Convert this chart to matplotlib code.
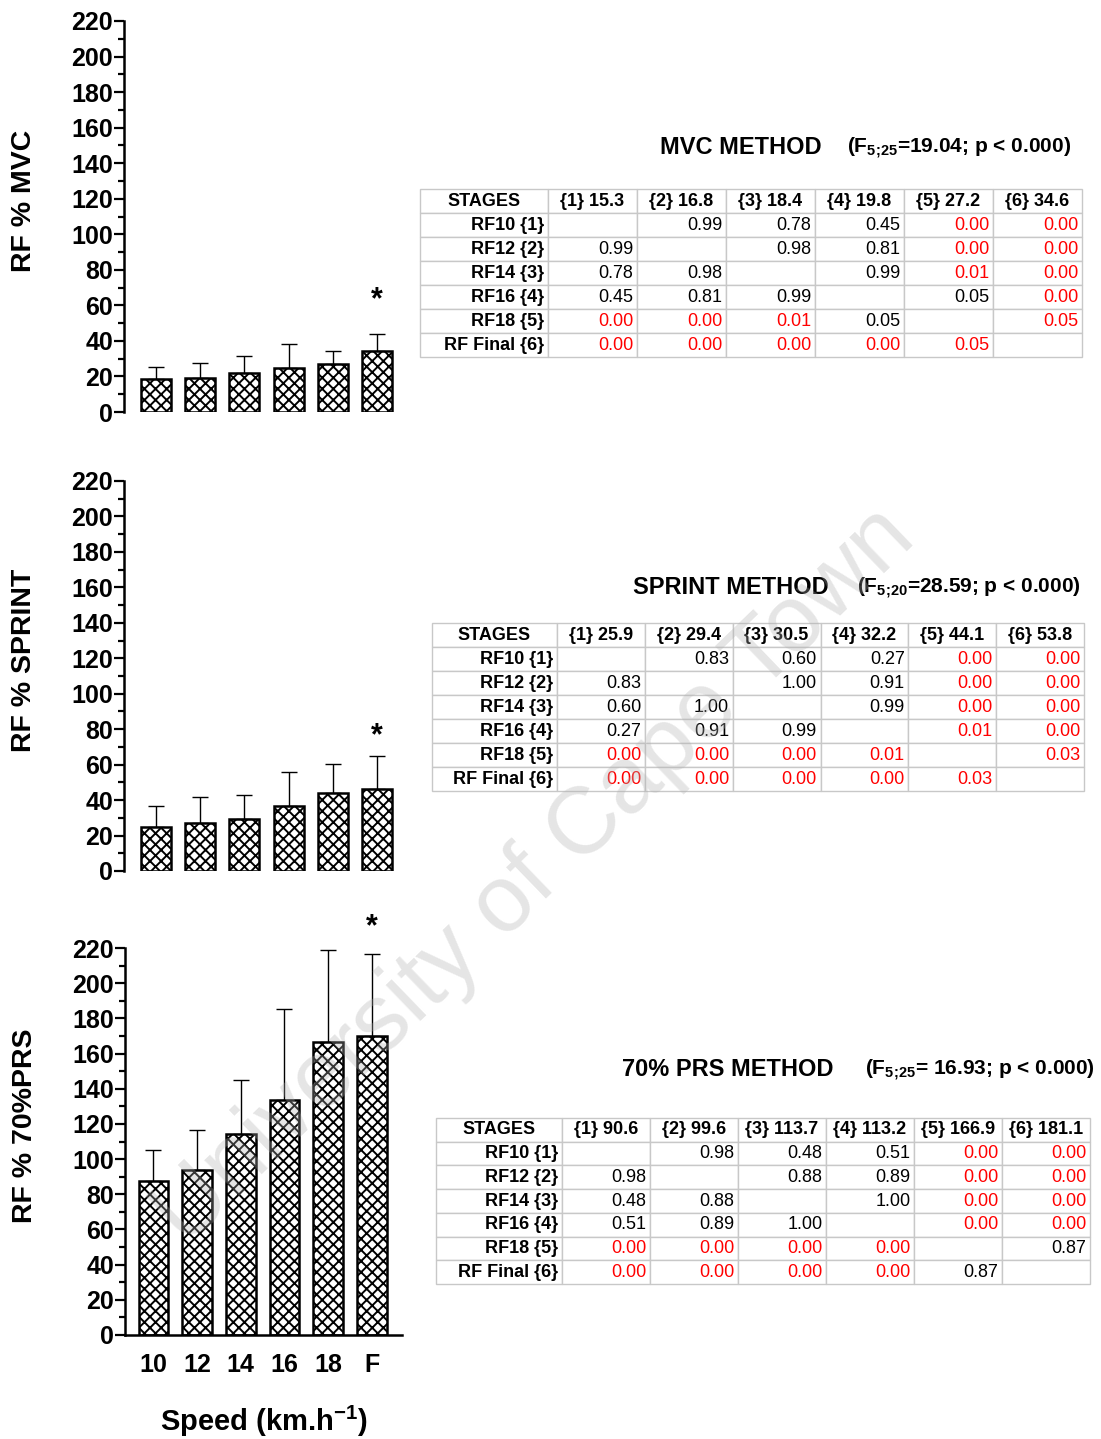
import matplotlib
matplotlib.use("Agg")
import matplotlib.pyplot as plt
from matplotlib import font_manager as fm
import numpy as np

# ---------------- data ----------------
speeds = ["10", "12", "14", "16", "18", "F"]

mvc_mean = [18.6, 19.3, 22.1, 24.9, 27.2, 34.1]
mvc_sd = [6.9, 8.3, 9.6, 13.4, 7.3, 9.6]
sprint_mean = [25.0, 27.0, 29.3, 36.7, 44.0, 46.3]
sprint_sd = [11.7, 14.7, 13.6, 19.1, 16.4, 18.6]
prs_mean = [87.7, 93.6, 114.1, 133.4, 166.8, 169.8]
prs_sd = [17.7, 22.7, 30.9, 51.9, 52.1, 46.8]

star_levels = [63, 76, 232]  # y value of the significance asterisk over "F"

row_labels = ["RF10 {1}", "RF12 {2}", "RF14 {3}", "RF16 {4}", "RF18 {5}", "RF Final {6}"]

mvc_cols = ["{1} 15.3", "{2} 16.8", "{3} 18.4", "{4} 19.8", "{5} 27.2", "{6} 34.6"]
mvc_p = [["", "0.99", "0.78", "0.45", "0.00", "0.00"],
         ["0.99", "", "0.98", "0.81", "0.00", "0.00"],
         ["0.78", "0.98", "", "0.99", "0.01", "0.00"],
         ["0.45", "0.81", "0.99", "", "0.05", "0.00"],
         ["0.00", "0.00", "0.01", "0.05", "", "0.05"],
         ["0.00", "0.00", "0.00", "0.00", "0.05", ""]]
mvc_sig = [[0, 0, 0, 0, 1, 1],
           [0, 0, 0, 0, 1, 1],
           [0, 0, 0, 0, 1, 1],
           [0, 0, 0, 0, 0, 1],
           [1, 1, 1, 0, 0, 1],
           [1, 1, 1, 1, 1, 0]]

sprint_cols = ["{1} 25.9", "{2} 29.4", "{3} 30.5", "{4} 32.2", "{5} 44.1", "{6} 53.8"]
sprint_p = [["", "0.83", "0.60", "0.27", "0.00", "0.00"],
            ["0.83", "", "1.00", "0.91", "0.00", "0.00"],
            ["0.60", "1.00", "", "0.99", "0.00", "0.00"],
            ["0.27", "0.91", "0.99", "", "0.01", "0.00"],
            ["0.00", "0.00", "0.00", "0.01", "", "0.03"],
            ["0.00", "0.00", "0.00", "0.00", "0.03", ""]]
sprint_sig = [[0, 0, 0, 0, 1, 1],
              [0, 0, 0, 0, 1, 1],
              [0, 0, 0, 0, 1, 1],
              [0, 0, 0, 0, 1, 1],
              [1, 1, 1, 1, 0, 1],
              [1, 1, 1, 1, 1, 0]]

prs_cols = ["{1} 90.6", "{2} 99.6", "{3} 113.7", "{4} 113.2", "{5} 166.9", "{6} 181.1"]
prs_p = [["", "0.98", "0.48", "0.51", "0.00", "0.00"],
         ["0.98", "", "0.88", "0.89", "0.00", "0.00"],
         ["0.48", "0.88", "", "1.00", "0.00", "0.00"],
         ["0.51", "0.89", "1.00", "", "0.00", "0.00"],
         ["0.00", "0.00", "0.00", "0.00", "", "0.87"],
         ["0.00", "0.00", "0.00", "0.00", "0.87", ""]]
prs_sig = [[0, 0, 0, 0, 1, 1],
           [0, 0, 0, 0, 1, 1],
           [0, 0, 0, 0, 1, 1],
           [0, 0, 0, 0, 1, 1],
           [1, 1, 1, 1, 0, 0],
           [1, 1, 1, 1, 0, 0]]

ylabels = ["RF % MVC", "RF % SPRINT", "RF % 70%PRS"]
titles = ["MVC METHOD", "SPRINT METHOD", "70% PRS METHOD"]
stats = [r"(F$_{5;\!25}$=19.04; p < 0.000)",
         r"(F$_{5;\!20}$=28.59; p < 0.000)",
         r"(F$_{5;\!25}$= 16.93; p < 0.000)"]

# ---------------- style ----------------
names = {f.name for f in fm.fontManager.ttflist}
narrow = "Liberation Sans Narrow" if "Liberation Sans Narrow" in names else "Liberation Sans"
plt.rcParams["font.family"] = ["Liberation Sans", "DejaVu Sans"]
plt.rcParams["mathtext.fontset"] = "custom"
plt.rcParams["mathtext.rm"] = "Liberation Sans:bold"
plt.rcParams["mathtext.bf"] = "Liberation Sans:bold"
plt.rcParams["mathtext.it"] = "Liberation Sans:bold"
plt.rcParams["mathtext.default"] = "bf"
plt.rcParams["hatch.linewidth"] = 1.4

W, H = 1101, 1439
fig = plt.figure(figsize=(W / 100, H / 100), dpi=100)


def ax_px(l, t, r, b):
    return fig.add_axes([l / W, 1 - b / H, (r - l) / W, (b - t) / H])


panels = [
    (ax_px(124, 21, 402, 412), mvc_mean, mvc_sd, (-0.716, 5.56), False),
    (ax_px(124, 481, 402, 871), sprint_mean, sprint_sd, (-0.716, 5.56), False),
    (ax_px(125, 948, 402, 1335), prs_mean, prs_sd, (-0.65, 5.69), True),
]

x = np.arange(len(speeds))
for i, (ax, mean, sd, xl, bottom) in enumerate(panels):
    ax.bar(x, mean, width=0.68, color="white", edgecolor="black",
           linewidth=1.8, hatch="xxx", zorder=2)
    ax.errorbar(x, mean, yerr=[np.zeros(len(sd)), sd], fmt="none",
                ecolor="black", elinewidth=1.0, capsize=6, capthick=1.0, zorder=1)
    ax.text(x[-1], star_levels[i], "*", ha="center", va="center",
            fontsize=22, fontweight="bold", clip_on=False)
    ax.set_xlim(*xl)
    ax.set_ylim(0, 220)
    ax.set_yticks(np.arange(0, 221, 20))
    ax.set_yticks(np.arange(10, 220, 20), minor=True)
    ax.tick_params(axis="y", which="major", length=7, width=1.6, pad=1,
                   labelsize=18)
    ax.tick_params(axis="y", which="minor", length=4, width=1.6)
    for lab in ax.get_yticklabels():
        lab.set_fontweight("bold")
    for s in ["top", "right"]:
        ax.spines[s].set_visible(False)
    ax.spines["left"].set_linewidth(1.8)
    ax.set_ylabel(ylabels[i], fontsize=20.5, fontweight="bold")
    ax.yaxis.set_label_coords(-0.313, 0.54)
    if bottom:
        ax.spines["bottom"].set_linewidth(1.8)
        ax.set_xticks(x)
        ax.set_xticklabels(speeds, fontsize=18, fontweight="bold")
        ax.tick_params(axis="x", length=0, pad=13)
        ax.set_xlabel(r"Speed (km.h$^{-1}$)", fontsize=21, fontweight="bold",
                      labelpad=19)
    else:
        ax.spines["bottom"].set_visible(False)
        ax.set_xticks([])

# ---------------- tables ----------------
tables = [
    ((420, 189, 1082, 357), 128, mvc_cols, mvc_p, mvc_sig, (660, 148), (847, 148)),
    ((432, 623, 1084, 791), 125, sprint_cols, sprint_p, sprint_sig, (633, 588), (857, 588)),
    ((436, 1118, 1090, 1284), 126, prs_cols, prs_p, prs_sig, (622, 1070), (865, 1070)),
]

for k, (box, firstw, cols, pvals, sig, tpos, spos) in enumerate(tables):
    l, t, r, b = box
    tw = r - l
    ax = ax_px(l, t, r, b)
    ax.axis("off")
    cell_text = [["STAGES"] + cols] + [[row_labels[j]] + pvals[j] for j in range(6)]
    ncol = len(cols)
    widths = [firstw / tw] + [(tw - firstw) / ncol / tw] * ncol
    tbl = ax.table(cellText=cell_text, colWidths=widths, bbox=[0, 0, 1, 1],
                   cellLoc="right")
    tbl.auto_set_font_size(False)
    tbl.set_fontsize(13)
    for (ri, ci), cell in tbl.get_celld().items():
        cell.set_edgecolor("#c8c8c8")
        cell.set_linewidth(1.0)
        cell.PAD = 0.04 if ci > 0 else 0.03
        txt = cell.get_text()
        txt.set_fontfamily(narrow)
        if ri == 0:
            txt.set_fontweight("bold")
            cell._loc = "center"
            txt.set_horizontalalignment("center")
        elif ci == 0:
            txt.set_fontweight("bold")
        else:
            if sig[ri - 1][ci - 1]:
                txt.set_color("#ff0000")
    fig.text(tpos[0] / W, 1 - tpos[1] / H, titles[k], fontsize=17,
             fontweight="bold", family=narrow, va="center", ha="left")
    fig.text(spos[0] / W, 1 - spos[1] / H, stats[k], fontsize=15,
             fontweight="bold", family=narrow, va="center", ha="left")

# ---------------- watermark ----------------
fig.text(535 / W, 1 - 877 / H, "University of Cape Town", fontsize=68,
         color="#b0b0b0", alpha=0.32, rotation=44, ha="center", va="center",
         rotation_mode="anchor", zorder=100)

fig.savefig("out.png", dpi=100)
